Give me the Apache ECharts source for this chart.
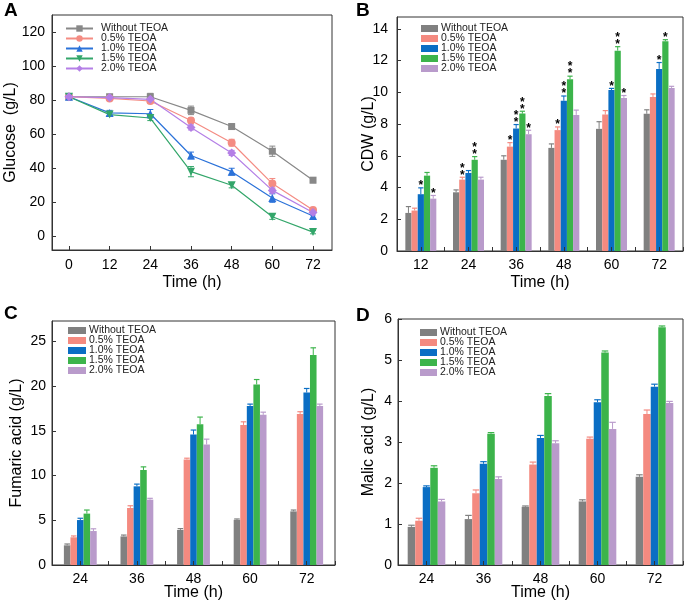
<!DOCTYPE html>
<html><head><meta charset="utf-8">
<script src="https://cdn.jsdelivr.net/npm/echarts@6/dist/echarts.min.js"></script>
<style>body{margin:0;background:#fff;width:685px;height:602px;overflow:hidden}.p{position:absolute}</style>
</head><body>
<div id="pa" class="p" style="left:0;top:0;width:342px;height:300px"></div>
<div id="pb" class="p" style="left:342px;top:0;width:343px;height:300px"></div>
<div id="pc" class="p" style="left:0;top:300px;width:342px;height:302px"></div>
<div id="pd" class="p" style="left:342px;top:300px;width:343px;height:302px"></div>
<script>
// ---------- shared ----------
const seriesNames = ['Without TEOA', '0.5% TEOA', '1.0% TEOA', '1.5% TEOA', '2.0% TEOA'];

// ---------- Panel A: glucose ----------
const timeA = [0, 12, 24, 36, 48, 60, 72];
const glucoseWithout = [82, 82, 82, 74, 64.5, 50, 33];
const glucose05 = [82, 81, 79.5, 68, 55, 31, 15.5];
const glucose10 = [82, 72.5, 72, 47.5, 38, 22.5, 12];
const glucose15 = [82, 71.5, 69.5, 38, 30, 11.5, 2.5];
const glucose20 = [82, 81.5, 80.5, 64, 49, 27, 14];
const glucoseErrWithout = [1, 1, 2, 2.5, 1.5, 3, 1.5];
const glucoseErr05 = [1, 1, 1.5, 1.5, 2, 3, 1.5];
const glucoseErr10 = [1.5, 1.5, 2.5, 2, 2, 2.5, 1.5];
const glucoseErr15 = [1, 1, 1.5, 3, 1.5, 1.5, 1];
const glucoseErr20 = [1, 1, 1, 1.5, 1.5, 1.5, 1.5];
const ticksA_x = [0, 12, 24, 36, 48, 60, 72];
const ticksA_y = [0, 20, 40, 60, 80, 100, 120];

// ---------- Panel B: CDW ----------
const timeB = ['12', '24', '36', '48', '60', '72'];
const cdwWithout = [2.4, 3.7, 5.75, 6.5, 7.7, 8.65];
const cdw05 = [2.55, 4.5, 6.58, 7.62, 8.6, 9.7];
const cdw10 = [3.58, 4.92, 7.72, 9.47, 10.15, 11.48];
const cdw15 = [4.75, 5.75, 8.66, 10.82, 12.63, 13.22];
const cdw20 = [3.3, 4.5, 7.36, 8.58, 9.65, 10.28];
const cdwErrWithout = [0.4, 0.15, 0.25, 0.25, 0.45, 0.25];
const cdwErr05 = [0.15, 0.15, 0.25, 0.2, 0.25, 0.2];
const cdwErr10 = [0.4, 0.15, 0.25, 0.3, 0.1, 0.4];
const cdwErr15 = [0.2, 0.2, 0.15, 0.2, 0.25, 0.1];
const cdwErr20 = [0.2, 0.15, 0.25, 0.3, 0.15, 0.1];
const cdwSigWithout = ['', '', '', '', '', ''];
const cdwSig05 = ['', '**', '*', '*', '', ''];
const cdwSig10 = ['*', '', '**', '**', '*', '*'];
const cdwSig15 = ['', '**', '**', '**', '**', '*'];
const cdwSig20 = ['*', '', '*', '', '*', ''];
const ticksB_y = [0, 2, 4, 6, 8, 10, 12, 14];

// ---------- Panel C: fumaric acid ----------
const timeC = ['24', '36', '48', '60', '72'];
const fumWithout = [2.2, 3.2, 3.92, 5.05, 6.0];
const fum05 = [3.1, 6.38, 11.8, 15.67, 16.9];
const fum10 = [5.03, 8.8, 14.6, 17.8, 19.3];
const fum15 = [5.75, 10.63, 15.75, 20.2, 23.5];
const fum20 = [3.8, 7.31, 13.48, 16.8, 17.8];
const fumErrWithout = [0.15, 0.15, 0.15, 0.1, 0.15];
const fumErr05 = [0.15, 0.25, 0.15, 0.35, 0.25];
const fumErr10 = [0.2, 0.25, 0.5, 0.2, 0.45];
const fumErr15 = [0.4, 0.35, 0.8, 0.55, 0.8];
const fumErr20 = [0.25, 0.15, 0.6, 0.3, 0.2];
const ticksC_y = [0, 5, 10, 15, 20, 25];

// ---------- Panel D: malic acid ----------
const timeD = ['24', '36', '48', '60', '72'];
const malWithout = [0.93, 1.12, 1.42, 1.55, 2.15];
const mal05 = [1.08, 1.75, 2.45, 3.08, 3.68];
const mal10 = [1.9, 2.47, 3.1, 3.97, 4.35];
const mal15 = [2.37, 3.2, 4.12, 5.18, 5.8];
const mal20 = [1.55, 2.1, 2.97, 3.32, 3.95];
const malErrWithout = [0.04, 0.09, 0.02, 0.04, 0.05];
const malErr05 = [0.06, 0.08, 0.06, 0.04, 0.1];
const malErr10 = [0.03, 0.05, 0.06, 0.06, 0.06];
const malErr15 = [0.05, 0.03, 0.06, 0.04, 0.03];
const malErr20 = [0.05, 0.05, 0.06, 0.16, 0.04];
const ticksD_y = [0, 1, 2, 3, 4, 5, 6];

// ---------- styles ----------
const FONT = "'Liberation Sans', Arial, sans-serif";
const lineColors = ['#888888', '#f48c83', '#2b72d9', '#33a66a', '#b47fe6'];
const lineSymbols = ['rect', 'circle', 'triangle', 'triangle', 'diamond'];
const lineSymbolSizes = [7, 8, 8, 8, 9];
const lineSymbolRotate = [0, 0, 0, 180, 0];
const barColors = ['#808080', '#f48a80', '#0a6ec4', '#3cb44b', '#b99bcb'];
const AXC = '#333';

function letter(t, x, y) {
  return { type: 'text', left: x, top: y, style: { text: t, font: 'bold 19px ' + FONT, fill: '#000' } };
}

function valueAxisY(min, max, ticks, name, nameGap, labelMargin) {
  return {
    type: 'value', min: min, max: max, name: name, nameLocation: 'middle', nameGap: nameGap,
    nameMoveOverlap: false,
    nameTextStyle: { fontSize: 16, fontFamily: FONT, color: '#000' },
    axisLine: { show: true, onZero: false, lineStyle: { color: AXC, width: 1 } },
    axisTick: { show: true, inside: true, length: 4, customValues: ticks, lineStyle: { color: AXC } },
    axisLabel: { customValues: ticks, fontSize: 14, fontFamily: FONT, color: '#000', margin: labelMargin },
    splitLine: { show: false }
  };
}

// ---------- Panel A ----------
(function () {
  const chart = echarts.init(document.getElementById('pa'), null, { renderer: 'canvas' });
  const ys = [glucoseWithout, glucose05, glucose10, glucose15, glucose20];
  const es = [glucoseErrWithout, glucoseErr05, glucoseErr10, glucoseErr15, glucoseErr20];
  const series = [];
  ys.forEach((arr, i) => {
    const color = lineColors[i];
    series.push({
      type: 'custom', z: 3, silent: true,
      data: timeA.map((t, k) => [t, arr[k], es[i][k]]),
      renderItem: function (params, api) {
        const x = api.value(0), y = api.value(1), e = api.value(2);
        const hi = api.coord([x, y + e]), lo = api.coord([x, y - e]);
        const w = 3;
        return { type: 'group', children: [
          { type: 'line', shape: { x1: hi[0], y1: hi[1], x2: lo[0], y2: lo[1] }, style: { stroke: color, lineWidth: 1 } },
          { type: 'line', shape: { x1: hi[0] - w, y1: hi[1], x2: hi[0] + w, y2: hi[1] }, style: { stroke: color, lineWidth: 1 } },
          { type: 'line', shape: { x1: lo[0] - w, y1: lo[1], x2: lo[0] + w, y2: lo[1] }, style: { stroke: color, lineWidth: 1 } }
        ] };
      }
    });
    series.push({
      type: 'line', name: seriesNames[i], z: 4,
      data: timeA.map((t, k) => [t, arr[k]]),
      symbol: lineSymbols[i], symbolSize: lineSymbolSizes[i], symbolRotate: lineSymbolRotate[i],
      lineStyle: { color: color, width: 1.2 }, itemStyle: { color: color },
      showAllSymbol: true, animation: false
    });
  });
  chart.setOption({
    animation: false,
    graphic: [letter('A', 4, 1)],
    legend: {
      data: seriesNames, orient: 'vertical', left: 65, top: 23, itemGap: -1, padding: 0,
      itemWidth: 27, itemHeight: 8,
      textStyle: { fontSize: 10.5, fontFamily: FONT, color: '#222', lineHeight: 9, padding: [0, 0, 0, 3] }
    },
    grid: { left: 52, top: 15, width: 280, height: 235, show: true, borderColor: AXC, borderWidth: 1, outerBoundsMode: 'none' },
    xAxis: {
      type: 'value', min: -5, max: 77.6, name: 'Time (h)', nameLocation: 'middle', nameGap: 25,
      nameMoveOverlap: false,
      nameTextStyle: { fontSize: 16, fontFamily: FONT, color: '#000' },
      axisLine: { show: true, onZero: false, lineStyle: { color: AXC } },
      axisTick: { show: true, inside: true, length: 4, customValues: ticksA_x, lineStyle: { color: AXC } },
      axisLabel: { customValues: ticksA_x, fontSize: 14, fontFamily: FONT, color: '#000', margin: 8 },
      splitLine: { show: false }
    },
    yAxis: valueAxisY(-8, 130, ticksA_y, 'Glucose  (g/L)', 33, 7),
    series: series
  });
})();

// ---------- bar panels ----------
function barPanel(el, cfg) {
  const chart = echarts.init(document.getElementById(el), null, { renderer: 'canvas' });
  const series = [];
  const gap = cfg.gap;
  cfg.values.forEach((arr, i) => {
    series.push({
      type: 'bar', name: seriesNames[i], data: arr, barGap: '0%', barCategoryGap: (gap * 100) + '%',
      itemStyle: { color: barColors[i] }, z: 2, animation: false
    });
  });
  cfg.values.forEach((arr, i) => {
    const color = barColors[i];
    const sig = cfg.sig ? cfg.sig[i] : null;
    series.push({
      type: 'custom', z: 3, silent: true,
      data: arr.map((v, k) => [k, v, cfg.errs[i][k]]),
      renderItem: function (params, api) {
        const c = api.value(0), v = api.value(1), e = api.value(2);
        const band = api.size([1, 0])[0];
        const group = band * (1 - gap);
        const bw = group / 5;
        const cx = api.coord([c, v])[0] - group / 2 + bw * (i + 0.5);
        const top = api.coord([c, v + e])[1];
        const base = api.coord([c, v])[1];
        const ch = [
          { type: 'line', shape: { x1: cx, y1: base, x2: cx, y2: top }, style: { stroke: color, lineWidth: 1 } },
          { type: 'line', shape: { x1: cx - bw / 2 + 0.5, y1: top, x2: cx + bw / 2 - 0.5, y2: top }, style: { stroke: color, lineWidth: 1.2 } }
        ];
        if (sig && sig[params.dataIndex]) {
          const n = sig[params.dataIndex].length;
          for (let s = 0; s < n; s++) {
            ch.push({ type: 'text', x: cx, y: top + 5 - 7 * (s + 1),
              style: { text: '*', fill: '#000', font: 'bold 12px ' + FONT, align: 'center', verticalAlign: 'middle' } });
          }
        }
        return { type: 'group', children: ch };
      }
    });
  });
  const tickStyle = { color: AXC, width: 1 };
  chart.setOption({
    animation: false,
    graphic: [letter(cfg.letter, cfg.lx, cfg.ly)],
    legend: {
      data: seriesNames, orient: 'vertical', left: cfg.legLeft, top: cfg.legTop, itemGap: -1, padding: 0,
      itemWidth: cfg.legW, itemHeight: 7, icon: 'rect',
      textStyle: { fontSize: 10.5, fontFamily: FONT, color: '#222', lineHeight: 9, padding: [0, 0, 0, -2] }
    },
    grid: { left: cfg.grid[0], top: cfg.grid[1], width: cfg.grid[2], height: cfg.grid[3], show: true, borderColor: AXC, borderWidth: 1, outerBoundsMode: 'none' },
    xAxis: [{
      type: 'category', data: cfg.cats, name: 'Time (h)', nameLocation: 'middle', nameGap: cfg.xNameGap,
      nameMoveOverlap: false,
      nameTextStyle: { fontSize: 16, fontFamily: FONT, color: '#000' },
      axisLine: { show: true, lineStyle: { color: AXC } },
      axisTick: { show: true, inside: true, length: 4, lineStyle: tickStyle },
      axisLabel: { fontSize: 14, fontFamily: FONT, color: '#000', margin: 7 },
      splitLine: { show: false }
    }, {
      type: 'category', data: cfg.cats, position: 'bottom', z: 6,
      axisLine: { show: false },
      axisTick: { show: true, inside: true, length: 4, alignWithLabel: true, lineStyle: tickStyle },
      axisLabel: { show: false }, splitLine: { show: false }
    }],
    yAxis: valueAxisY(0, cfg.ymax, cfg.yticks, cfg.yname, cfg.yNameGap, cfg.yLabelMargin),
    series: series
  });
}

barPanel('pb', {
  letter: 'B', lx: 14, ly: 1,
  cats: timeB,
  values: [cdwWithout, cdw05, cdw10, cdw15, cdw20],
  errs: [cdwErrWithout, cdwErr05, cdwErr10, cdwErr15, cdwErr20],
  sig: [cdwSigWithout, cdwSig05, cdwSig10, cdwSig15, cdwSig20],
  gap: 0.35, grid: [55, 17, 286, 234], ymax: 14.75, yticks: ticksB_y,
  yname: 'CDW (g/L)', yNameGap: 20, yLabelMargin: 9, xNameGap: 24,
  legLeft: 79, legTop: 23, legW: 17
});

barPanel('pc', {
  letter: 'C', lx: 4, ly: 4,
  cats: timeC,
  values: [fumWithout, fum05, fum10, fum15, fum20],
  errs: [fumErrWithout, fumErr05, fumErr10, fumErr15, fumErr20],
  sig: null,
  gap: 0.42, grid: [52, 21, 283, 244], ymax: 27.3, yticks: ticksC_y,
  yname: 'Fumaric acid (g/L)', yNameGap: 27, yLabelMargin: 6, xNameGap: 20,
  legLeft: 68, legTop: 25, legW: 18
});

barPanel('pd', {
  letter: 'D', lx: 14, ly: 6,
  cats: timeD,
  values: [malWithout, mal05, mal10, mal15, mal20],
  errs: [malErrWithout, malErr05, malErr10, malErr15, malErr20],
  sig: null,
  gap: 0.34, grid: [56, 19, 285, 246], ymax: 6, yticks: ticksD_y,
  yname: 'Malic acid (g/L)', yNameGap: 21, yLabelMargin: 6, xNameGap: 20,
  legLeft: 78, legTop: 27, legW: 17
});
</script>
</body></html>
